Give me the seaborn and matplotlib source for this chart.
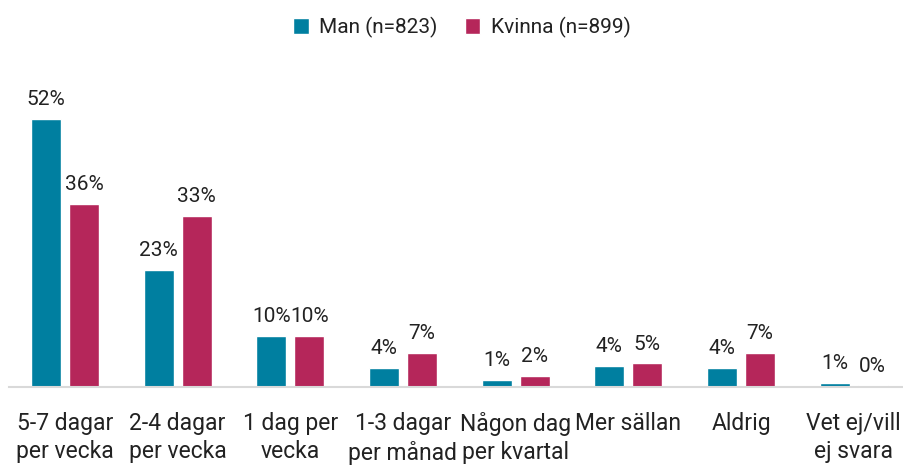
import matplotlib
matplotlib.use("Agg")
import matplotlib.pyplot as plt
import pandas as pd
import seaborn as sns

# Data (percent)
categories = ["5-7 dagar\nper vecka", "2-4 dagar\nper vecka", "1 dag per\nvecka",
              "1-3 dagar\nper månad", "Någon dag\nper kvartal", "Mer sällan",
              "Aldrig", "Vet ej/vill\nej svara"]
man = [52.1, 22.7, 10.0, 3.7, 1.4, 4.1, 3.7, 0.8]
kvinna = [35.6, 33.2, 10.0, 6.6, 2.1, 4.6, 6.6, 0.3]
series_names = ["Man (n=823)", "Kvinna (n=899)"]
colors = ["#007FA0", "#B5265A"]

df = pd.DataFrame({
    "kategori": categories * 2,
    "andel": man + kvinna,
    "kon": [series_names[0]] * len(categories) + [series_names[1]] * len(categories),
})

sns.set_style("white")
plt.rcParams["font.family"] = ["Roboto", "DejaVu Sans"]

fig = plt.figure(figsize=(9.04, 4.67), dpi=100)
ax = fig.add_axes([8.6 / 904, 1 - 387 / 467, 901.4 / 904, 309 / 467])

sns.barplot(data=df, x="kategori", y="andel", hue="kon", palette=colors,
            width=0.674, gap=0.21, ax=ax, saturation=1)

for cont in ax.containers:
    ax.bar_label(cont, labels=[f"{v.get_height():.0f}%" for v in cont],
                 padding=7, fontsize=15, color="#222222")

ax.set_ylim(0, 60)
ax.set_xlim(-0.5, 7.5)
ax.set_xlabel("")
ax.set_ylabel("")
ax.set_yticks([])
ax.tick_params(axis="x", length=0, pad=18, labelsize=16.5, colors="#222222")
for lbl in ax.get_xticklabels():
    lbl.set_linespacing(1.3)
    lbl.set_verticalalignment("top")

sns.despine(ax=ax, left=True, top=True, right=True)
ax.spines["bottom"].set_color("#d9d9d9")
ax.spines["bottom"].set_linewidth(1.5)

leg = ax.legend(loc="upper center", bbox_to_anchor=(0.503, 1 + 80 / 309),
                ncol=2, frameon=False, fontsize=15, handlelength=0.75,
                handleheight=0.75, handletextpad=0.5, columnspacing=1.3,
                bbox_transform=ax.transAxes)
for t in leg.get_texts():
    t.set_color("#222222")

fig.savefig("out.png", dpi=100)
